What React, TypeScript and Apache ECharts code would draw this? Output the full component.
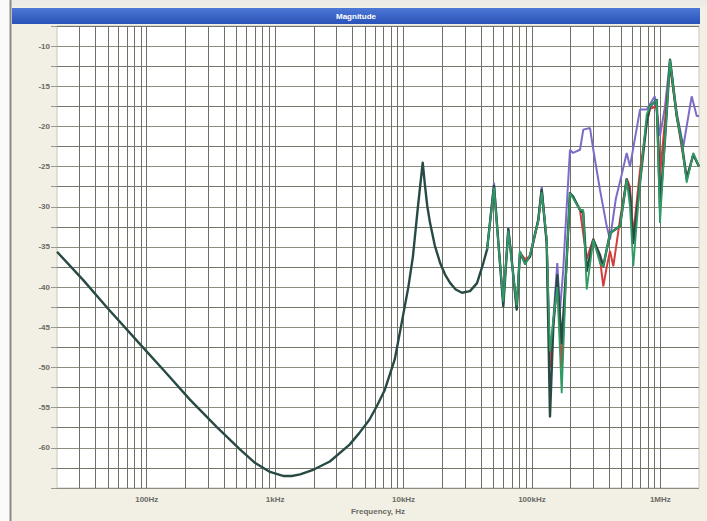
import React, { useEffect, useRef } from "react";
import * as echarts from "echarts";

// ---- data (frequency in Hz, magnitude in dB) ----
const baseFreq = [20, 31.9, 50, 88.6, 140, 217, 350, 532, 700, 912, 1152, 1350, 1566, 2000, 2667, 3800, 4500, 5420, 6200, 7140, 8540, 9870, 10900, 11830, 12940, 13600, 14100, 14700, 15300, 16080, 17500, 19280, 21000, 23100, 25500, 28500, 32930, 37340, 41800, 44740];
const baseDb = [-35.6, -39.1, -42.7, -47.1, -50.6, -54.0, -57.4, -60.2, -61.9, -63.0, -63.5, -63.5, -63.3, -62.7, -61.7, -59.6, -58.2, -56.5, -54.8, -52.8, -49.0, -43.7, -40.0, -36.2, -30.0, -26.8, -24.5, -27.4, -29.9, -32.0, -34.8, -37.0, -38.4, -39.5, -40.3, -40.7, -40.5, -39.5, -37.0, -35.3];

const hiFreq = [44740, 50640, 54690, 59830, 65440, 69550, 76070, 80700, 88300, 96560, 112000, 119100, 130300, 138200, 146700, 157600, 170500, 186500, 197800, 208800, 236700, 251100, 267000, 300500, 338800, 359500, 405500, 485000, 547000, 580200, 615600, 694300, 783000, 830700, 936800, 993800, 1087000, 1189000, 1341000, 1467000, 1604000, 1806000, 2000000];
const darkHiDb = [-35.3, -27.4, -34.3, -42.4, -32.8, -36.6, -42.8, -35.7, -37.0, -36.2, -31.6, -27.9, -34.5, -56.1, -44.9, -38.5, -47.0, -36.6, -28.3, -28.7, -30.4, -30.8, -38.0, -34.1, -36.0, -37.4, -33.3, -32.4, -26.6, -28.5, -34.5, -27.0, -19.5, -17.5, -16.7, -30.0, -21.6, -11.7, -18.7, -22.0, -26.5, -23.5, -25.0];
const greenHiDb = [-35.3, -27.6, -34.5, -41.8, -33.0, -36.8, -42.3, -35.5, -37.2, -36.0, -31.8, -28.2, -34.0, -48.0, -44.0, -40.0, -53.2, -36.6, -28.3, -28.9, -30.4, -30.4, -40.3, -34.1, -37.0, -37.4, -33.3, -32.4, -26.6, -30.0, -37.4, -27.0, -18.5, -17.5, -16.7, -32.0, -21.6, -11.7, -18.7, -22.05, -27.0, -23.3, -25.0];

const purpleFreq = [44740, 50640, 54690, 59830, 65440, 69550, 76070, 80700, 88300, 96560, 112000, 119100, 130300, 138200, 146700, 157600, 165000, 175000, 186500, 197800, 208800, 236700, 251100, 283300, 300500, 338800, 382200, 405500, 450000, 500000, 547000, 580200, 694300, 783000, 905000, 993800, 1087000, 1189000, 1341000, 1509000, 1754000, 1920000, 2000000];
const purpleDb = [-35.3, -27.0, -34.5, -42.0, -32.6, -36.6, -42.5, -35.7, -37.0, -36.0, -31.6, -27.5, -34.5, -50.0, -44.0, -37.0, -43.0, -38.0, -30.0, -22.9, -23.3, -22.9, -20.4, -20.2, -22.9, -27.9, -32.4, -34.1, -29.0, -26.0, -23.3, -25.0, -17.9, -17.9, -16.25, -21.2, -17.5, -11.7, -18.3, -22.5, -16.25, -18.7, -18.7];

const redFreq = [80700, 88300, 96560, 112000, 119100, 130300, 138200, 146700, 157600, 170500, 186500, 197800, 208800, 236700, 267000, 300500, 338800, 359500, 382200, 405500, 430200, 485000, 547000, 580200, 615600, 694300, 783000, 830700, 936800, 993800, 1054000, 1189000, 1341000, 1604000, 1806000, 2000000];
const redDb = [-35.7, -36.5, -36.2, -31.8, -28.0, -34.2, -50.0, -44.5, -39.5, -50.0, -36.6, -28.5, -28.8, -30.4, -36.5, -34.0, -36.5, -39.9, -37.5, -35.5, -37.4, -31.6, -26.5, -27.5, -33.5, -25.5, -19.5, -17.8, -17.5, -26.0, -21.6, -12.5, -18.7, -26.5, -23.5, -25.0];

const freqTicks = [100, 1000, 10000, 100000, 1000000];
const freqTickLabels = ["100Hz", "1kHz", "10kHz", "100kHz", "1MHz"];

const F_MIN = 20;
const F_MAX = 2000000;

const pairs = (f: number[], d: number[]) => f.map((v, i) => [v, d[i]]);

export default function App() {
  const ref = useRef<HTMLDivElement>(null);
  useEffect(() => {
    document.body.style.margin = "0";
    if (!ref.current) return;
    const chart = echarts.init(ref.current, null, { renderer: "svg" });

    // vertical log grid line positions
    const vLines: number[] = [];
    for (let n = 1; n <= 6; n++) {
      for (let k = 1; k <= 9; k++) {
        const v = k * Math.pow(10, n);
        if (v > F_MIN * 1.001 && v < F_MAX * 0.999) vLines.push(v);
      }
    }

    const font = "Liberation Sans";
    const option: any = {
      animation: false,
      backgroundColor: "#f2f0e4",
      graphic: [
        { type: "rect", shape: { x: 0, y: 0, width: 10, height: 521 }, style: { fill: "#fafafa" }, silent: true },
        { type: "rect", shape: { x: 10, y: 0, width: 697, height: 6 }, style: { fill: "#ecebe6" }, silent: true },
        { type: "line", shape: { x1: 10.5, y1: 0, x2: 10.5, y2: 521 }, style: { stroke: "#8a8a86", lineWidth: 2 }, silent: true },
        {
          type: "rect",
          shape: { x: 12, y: 8, width: 688, height: 16 },
          style: {
            fill: new echarts.graphic.LinearGradient(0, 0, 0, 1, [
              { offset: 0, color: "#4d78d6" },
              { offset: 1, color: "#2a52b8" },
            ]),
          },
          silent: true,
        },
        {
          type: "text",
          x: 356,
          y: 16,
          style: { text: "Magnitude", fill: "#ffffff", fontSize: 8, fontWeight: "bold", fontFamily: font, align: "center", verticalAlign: "middle" },
          silent: true,
        },
      ],
      grid: {
        left: 57,
        right: 8,
        top: 26,
        bottom: 33,
        show: true,
        backgroundColor: "#ffffff",
        borderColor: "#c8c8bc",
        borderWidth: 1,
        outerBoundsMode: "none",
      },
      xAxis: {
        type: "log",
        logBase: 10,
        min: F_MIN,
        max: F_MAX,
        splitNumber: 5,
        axisLine: { show: false },
        axisTick: { show: false },
        splitLine: { show: false },
        minorSplitLine: { show: false },
        axisLabel: {
          fontSize: 8,
          fontFamily: font,
          fontWeight: "bold",
          color: "#6a6a66",
          margin: 7,
          formatter: (v: number) => {
            const i = freqTicks.findIndex((t) => Math.abs(Math.log10(v) - Math.log10(t)) < 1e-6);
            return i >= 0 ? freqTickLabels[i] : "";
          },
        },
        name: "Frequency, Hz",
        nameLocation: "middle",
        nameGap: 19,
        nameTextStyle: { fontSize: 8, fontFamily: font, fontWeight: "bold", color: "#6a6a66" },
      },
      yAxis: {
        type: "value",
        min: -65,
        max: -7.5,
        interval: 2.5,
        axisLine: { show: false },
        axisTick: {
          show: true,
          length: 6,
          lineStyle: { color: "#9a9a94" },
          interval: (_i: number, v: any) => {
            const n = Number(v);
            return Math.abs(n % 5) < 1e-6 && n >= -60 && n <= -10;
          },
        },
        axisLabel: {
          fontSize: 8,
          fontFamily: font,
          fontWeight: "bold",
          color: "#6a6a66",
          margin: 7,
          interval: 0,
          formatter: (v: number) => (Math.abs(v % 5) < 1e-6 && v >= -60 && v <= -10 ? String(v) : ""),
        },
        splitLine: { show: true, lineStyle: { color: ["#8c8c80", "#75756a"], width: 1 } },
      },
      series: [
        {
          type: "line",
          name: "grid",
          data: [],
          silent: true,
          z: 1,
          markLine: {
            z: 1,
            silent: true,
            symbol: ["none", "none"],
            label: { show: false },
            emphasis: { disabled: true },
            lineStyle: { color: "#6f6f64", width: 1, type: "solid" },
            data: vLines.map((v) => ({ xAxis: v })),
          },
        },
        {
          type: "line",
          name: "Trace 3",
          data: pairs(purpleFreq, purpleDb),
          showSymbol: false,
          z: 3,
          lineStyle: { color: "#7b6cc8", width: 2 },
        },
        {
          type: "line",
          name: "Trace 4",
          data: pairs(redFreq, redDb),
          showSymbol: false,
          z: 4,
          lineStyle: { color: "#d63c3c", width: 2 },
        },
        {
          type: "line",
          name: "Trace 1",
          data: pairs(baseFreq, baseDb).concat(pairs(hiFreq, darkHiDb).slice(1)),
          showSymbol: false,
          z: 5,
          lineStyle: { color: "#284a45", width: 2.4, join: "round" },
        },
        {
          type: "line",
          name: "Trace 2",
          data: pairs(hiFreq, greenHiDb),
          showSymbol: false,
          z: 6,
          lineStyle: { color: "#2f9a63", width: 1.8 },
        },
      ],
    };
    chart.setOption(option);
    return () => chart.dispose();
  }, []);
  return <div ref={ref} style={{ width: 707, height: 521 }} />;
}
